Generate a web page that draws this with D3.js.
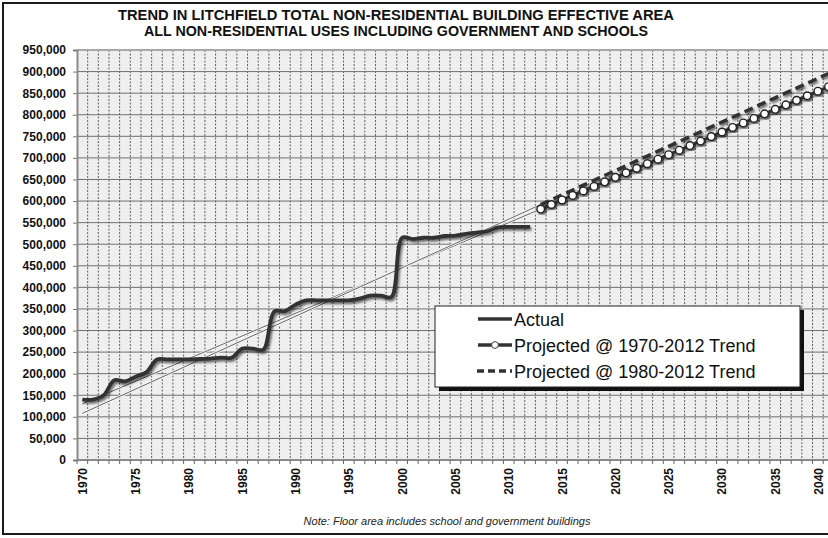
<!DOCTYPE html>
<html><head><meta charset="utf-8">
<script src="https://cdn.jsdelivr.net/npm/d3@7"></script>
<style>
html,body{margin:0;padding:0;background:#fff;}
svg{display:block;font-family:"Liberation Sans",Arial,sans-serif;}
</style></head>
<body>
<svg id="chart" width="828" height="538"></svg>
<script>
// ---------- DATA ----------
const titleLines = ["TREND IN LITCHFIELD TOTAL NON-RESIDENTIAL BUILDING EFFECTIVE AREA",
                    "ALL NON-RESIDENTIAL USES INCLUDING GOVERNMENT AND SCHOOLS"];
const noteText = "Note:  Floor area includes school and government buildings";
const years = d3.range(1970, 2041);
const xTickYears = [1970,1975,1980,1985,1990,1995,2000,2005,2010,2015,2020,2025,2030,2035,2040];
const yTicks = [0,50000,100000,150000,200000,250000,300000,350000,400000,450000,500000,550000,600000,650000,700000,750000,800000,850000,900000,950000];

const actualYears = d3.range(1970, 2013);
const actualValues = [140000,140000,150000,185000,182000,193000,203000,233000,233000,233000,
                      233000,234000,235000,237000,237000,258000,258000,256000,344000,345000,
                      360000,370000,370000,370000,370000,370000,374000,381000,381000,378000,
                      515000,512000,515000,515000,519000,520000,524000,527000,530000,539000,
                      540000,540000,540000];

const projYears = d3.range(2013, 2041);
const proj1970Values = [581500,592000,602500,613000,623500,634000,644500,655000,665500,676000,
                        686500,697000,707500,718000,728500,739000,749500,760000,770500,781000,
                        791500,802000,812500,823000,833500,844000,854500,865000];
const proj1980Values = [591750,603000,614250,625500,636750,648000,659250,670500,681750,693000,
                        704250,715500,726750,738000,749250,760500,771750,783000,794250,805500,
                        816750,828000,839250,850500,861750,873000,884250,895500];

// thin linear trendlines over the actual period
const trend1970Years = [1970, 2013];
const trend1970Values = [130000, 581500];
const trend1980Years = [1970, 2013];
const trend1980Values = [108000, 591750];

const legendLabels = ["Actual", "Projected @ 1970-2012 Trend", "Projected @ 1980-2012 Trend"];

// ---------- LAYOUT ----------
const svg = d3.select("#chart");
const plot = {left: 77, top: 50, bottom: 460, step: 10.66};
plot.right = plot.left + years.length * plot.step;

const x = d3.scaleBand().domain(years).range([plot.left, plot.right]).padding(0);
const xc = yr => x(yr) + x.bandwidth() / 2;
const y = d3.scaleLinear().domain([0, 950000]).range([plot.bottom, plot.top]);

const defs = svg.append("defs");
const noise = defs.append("filter").attr("id","noise").attr("x",0).attr("y",0).attr("width","100%").attr("height","100%");
noise.append("feTurbulence").attr("type","fractalNoise").attr("baseFrequency",0.8).attr("numOctaves",2).attr("seed",3).attr("result","t");
noise.append("feColorMatrix").attr("in","t").attr("type","matrix")
  .attr("values","0 0 0 0 0.6  0 0 0 0 0.6  0 0 0 0 0.6  0 0 0 -1.2 0.75").attr("result","n");
noise.append("feComposite").attr("in","n").attr("in2","SourceGraphic").attr("operator","in");
const sh = defs.append("filter").attr("id","shadow").attr("x","-10%").attr("y","-10%").attr("width","130%").attr("height","130%");
sh.append("feDropShadow").attr("dx",1.5).attr("dy",2).attr("stdDeviation",0.8).attr("flood-color","#000").attr("flood-opacity",0.55);
defs.append("clipPath").attr("id","clip").append("rect")
  .attr("x", plot.left).attr("y", plot.top - 10).attr("width", plot.right - plot.left).attr("height", plot.bottom - plot.top + 10);

// outer frame
svg.append("rect").attr("x",3).attr("y",3).attr("width",840).attr("height",531)
  .attr("fill","#fff").attr("stroke","#1a1a1a").attr("stroke-width",2);

// plot background
svg.append("rect").attr("x",plot.left).attr("y",plot.top).attr("width",plot.right-plot.left).attr("height",plot.bottom-plot.top)
  .attr("fill","#f1f1f1");
svg.append("rect").attr("x",plot.left).attr("y",plot.top).attr("width",plot.right-plot.left).attr("height",plot.bottom-plot.top)
  .attr("fill","#f1f1f1").attr("filter","url(#noise)").attr("opacity",0.35);

// vertical gridlines at category boundaries
const g = svg.append("g");
g.selectAll("line.vg").data(years.slice(1)).join("line").attr("class","vg")
  .attr("x1", d => x(d)).attr("x2", d => x(d)).attr("y1", plot.top).attr("y2", plot.bottom)
  .attr("stroke","#3c3c3c").attr("stroke-width",1).attr("stroke-dasharray","2,1.5").attr("opacity",0.8);
// horizontal gridlines
g.selectAll("line.hg").data(yTicks.slice(1)).join("line").attr("class","hg")
  .attr("x1", plot.left).attr("x2", plot.right).attr("y1", d => y(d)).attr("y2", d => y(d))
  .attr("stroke", d => d === 950000 ? "#a8a8a8" : "#707070").attr("stroke-width", d => d === 950000 ? 2 : 1);

// Y axis
const yAxis = svg.append("g").attr("transform",`translate(${plot.left},0)`)
  .call(d3.axisLeft(y).tickValues(yTicks).tickFormat(d3.format(",")).tickSize(4).tickPadding(7));
yAxis.select(".domain").attr("stroke","#8a8a8a").attr("stroke-width",2);
yAxis.selectAll(".tick line").attr("stroke","#777");
yAxis.selectAll("text").attr("font-size",12).attr("font-weight","bold").attr("fill","#111")
  .attr("font-family","'Liberation Sans',Arial,sans-serif");

// X axis: ticks at boundaries, labels at centers
const xAxisG = svg.append("g").attr("transform",`translate(0,${plot.bottom})`);
xAxisG.append("line").attr("x1",plot.left).attr("x2",plot.right).attr("y1",0).attr("y2",0)
  .attr("stroke","#8a8a8a").attr("stroke-width",2);
xAxisG.selectAll("line.tk").data(years).join("line").attr("class","tk")
  .attr("x1", d => x(d)).attr("x2", d => x(d)).attr("y1",0).attr("y2",4)
  .attr("stroke","#666").attr("stroke-width",1);
xAxisG.selectAll("text").data(xTickYears).join("text")
  .attr("transform", d => `translate(${Math.min(xc(d)+4.5, 823)},8) rotate(-90)`)
  .attr("text-anchor","end").attr("font-size",12).attr("font-weight","bold").attr("fill","#111")
  .text(d => d);

// series
const plotG = svg.append("g").attr("clip-path","url(#clip)");
const lineGen = (xs, vs, curve) => d3.line().x((d,i) => xc(xs[i])).y(d => y(d)).curve(curve)(vs);

// trendlines (thin)
[[trend1970Years, trend1970Values],[trend1980Years, trend1980Values]].forEach(([xs, vs]) => {
  plotG.append("path").attr("d", lineGen(xs, vs, d3.curveLinear))
    .attr("fill","none").attr("stroke","#f6f6f6").attr("stroke-width",2.6);
  plotG.append("path").attr("d", lineGen(xs, vs, d3.curveLinear))
    .attr("fill","none").attr("stroke","#555").attr("stroke-width",0.9);
});

// actual
plotG.append("path").attr("d", lineGen(actualYears, actualValues, d3.curveCatmullRom.alpha(0.5)))
  .attr("fill","none").attr("stroke","#333").attr("stroke-width",3.8).attr("stroke-linejoin","round")
  .attr("filter","url(#shadow)");

// projected 1980-2012 (dashed)
plotG.append("path").attr("d", lineGen(projYears, proj1980Values, d3.curveLinear))
  .attr("fill","none").attr("stroke","#333").attr("stroke-width",3.5).attr("stroke-dasharray","9,5")
  .attr("filter","url(#shadow)");

// projected 1970-2012 (line with circle markers)
plotG.append("path").attr("d", lineGen(projYears, proj1970Values, d3.curveLinear))
  .attr("fill","none").attr("stroke","#333").attr("stroke-width",3).attr("filter","url(#shadow)");
plotG.selectAll("circle.p").data(projYears).join("circle").attr("class","p")
  .attr("cx", (d,i) => xc(d)).attr("cy", (d,i) => y(proj1970Values[i])).attr("r",3.8)
  .attr("fill","#fff").attr("stroke","#222").attr("stroke-width",1.4).attr("filter","url(#shadow)");

// legend
const lg = svg.append("g");
const L = {x: 435, y: 306, w: 365, h: 81};
lg.append("rect").attr("x",L.x+4).attr("y",L.y+4).attr("width",L.w).attr("height",L.h).attr("fill","#111");
lg.append("rect").attr("x",L.x).attr("y",L.y).attr("width",L.w).attr("height",L.h).attr("fill","#fff")
  .attr("stroke","#222").attr("stroke-width",1);
const rowsY = [319, 345, 371];
legendLabels.forEach((lab, i) => {
  const yy = rowsY[i];
  const ln = lg.append("line").attr("x1",478).attr("x2",512).attr("y1",yy).attr("y2",yy)
    .attr("stroke","#333").attr("stroke-width",3.5);
  if (i === 2) ln.attr("stroke-dasharray","7,4").attr("x1",477);
  if (i === 1) lg.append("circle").attr("cx",495).attr("cy",yy).attr("r",3.4).attr("fill","#fff").attr("stroke","#444").attr("stroke-width",1);
  lg.append("text").attr("x",514).attr("y",yy+6.5).attr("font-size",18).attr("fill","#111").text(lab);
});

// title
svg.selectAll("text.title").data(titleLines).join("text").attr("class","title")
  .attr("x",396).attr("y",(d,i) => 20 + i*16).attr("text-anchor","middle")
  .attr("font-size",14.5).attr("font-weight","bold").attr("fill","#111")
  .attr("textLength", (d,i) => i === 0 ? 556 : 504).attr("lengthAdjust","spacingAndGlyphs")
  .text(d => d);

// note
svg.append("text").attr("x",447).attr("y",525).attr("text-anchor","middle")
  .attr("font-size",11).attr("font-style","italic").attr("fill","#222").text(noteText);
</script>
</body></html>
